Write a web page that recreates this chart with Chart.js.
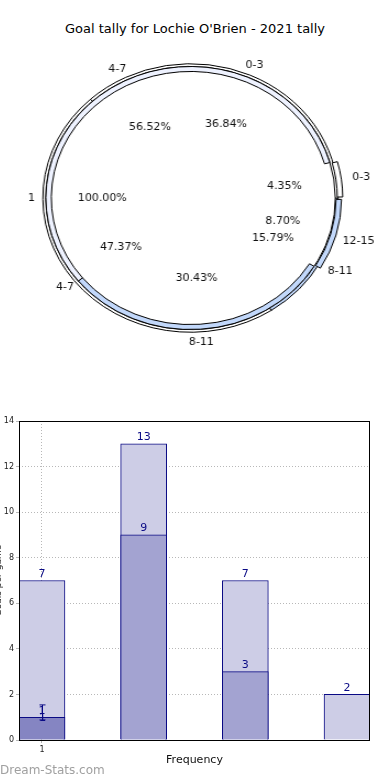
<!DOCTYPE html>
<html>
<head>
<meta charset="utf-8">
<script src="https://cdn.jsdelivr.net/npm/chart.js@4.4.1/dist/chart.umd.min.js"></script>
<style>
  html, body { margin: 0; padding: 0; background: #fff; }
  body { width: 390px; height: 780px; position: relative; overflow: hidden; font-family: "DejaVu Sans", sans-serif; }
  #title { position: absolute; top: 21px; left: 0; width: 390px; text-align: center; font-size: 13px; color: #000; }
  #pieBox { position: absolute; left: 13px; top: 33px; width: 355px; height: 330px; transform: scaleX(1.1); transform-origin: 50% 50%; }
  #barBox { position: absolute; left: 0; top: 410px; width: 390px; height: 370px; }
  #mark { position: absolute; left: 0; top: 763px; font-size: 12px; color: #a0a0a0; }
</style>
</head>
<body>
<div id="title"></div>
<div id="pieBox"><canvas id="pie"></canvas></div>
<div id="barBox"><canvas id="bars"></canvas></div>
<div id="mark">Dream-Stats.com</div>
<script>
// pie data (matplotlib order: counter-clockwise from 3 o'clock)
const pieTitle = "Goal tally for Lochie O'Brien - 2021 tally";
const innerLabels = ["1"];
const innerValues = [1];
const ringBLabels = ["0-3", "4-7", "8-11"];
const ringBValues = [7, 9, 3];
const ringALabels = ["0-3", "4-7", "8-11", "12-15"];
const ringAValues = [1, 13, 7, 2];

// bar data
const barX = [1, 2, 3, 4];
const totalCounts = [7, 13, 7, 2];
const subsetCounts = [1, 9, 3];
const errLow = [0.88];
const errHigh = [1.54];
const errText = ["1"];
const xTicks = [1];
const yTicks = [0, 2, 4, 6, 8, 10, 12, 14];

// styles
const ringAColors = ["#ffffff", "#eef2ff", "#c2d8fb", "#c2d8fb"];
const ringAOffset = [16, 0, 0, 16];
const ringAPush = [12, 0, 0, 14];
const ringBColors = ["#ffffff", "#ffffff", "#c2d8fb"];
const ringBPush = [0, 0, 10];
const subsetColors = ["#8585c2", "#a3a3d1", "#a3a3d1"];
const navy = "#0a0a85";
const stretch = 1.1;

document.getElementById("title").textContent = pieTitle;

function ccw(arr) { return arr.slice().reverse(); }

const pieLabels = {
  id: "pieLabels",
  afterDatasetsDraw(chart) {
    const ctx = chart.ctx;
    const R = chart.getDatasetMeta(0).data[0].outerRadius;
    ctx.save();
    ctx.font = '11px "DejaVu Sans"';
    ctx.fillStyle = "#111";
    ctx.textAlign = "center";
    ctx.textBaseline = "middle";
    function put(text, x, y) {
      ctx.save();
      ctx.translate(x, y);
      ctx.scale(1 / stretch, 1);
      ctx.fillText(text, 0, 0);
      ctx.restore();
    }
    chart.data.datasets.forEach(function (ds, di) {
      const meta = chart.getDatasetMeta(di);
      const total = ds.data.reduce(function (a, b) { return a + b; }, 0);
      meta.data.forEach(function (arc, i) {
        const mid = (arc.startAngle + arc.endAngle) / 2;
        const push = ds.push ? ds.push[i] : 0;
        const cos = Math.cos(mid), sin = Math.sin(mid);
        put(ds.names[i], arc.x + cos * (R * 1.1 + push), arc.y + sin * (R * 1.1 + push));
        const pct = (ds.data[i] / total * 100).toFixed(2) + "%";
        put(pct, arc.x + cos * (R * 0.61 + push / 2), arc.y + sin * (R * 0.61 + push / 2));
      });
    });
    ctx.restore();
  }
};

new Chart(document.getElementById("pie"), {
  type: "pie",
  data: {
    datasets: [
      { data: ccw(ringAValues), names: ccw(ringALabels), backgroundColor: ccw(ringAColors),
        offset: ccw(ringAOffset), push: ccw(ringAPush), weight: 5, borderColor: "#000", borderWidth: 1 },
      { data: ccw(ringBValues), names: ccw(ringBLabels), backgroundColor: ccw(ringBColors),
        push: ccw(ringBPush), weight: 2.5, borderColor: "#000", borderWidth: 1 },
      { data: innerValues, names: innerLabels, backgroundColor: ["#ffffff"],
        weight: 125.5, borderWidth: 0 }
    ]
  },
  options: {
    responsive: true,
    maintainAspectRatio: false,
    animation: false,
    rotation: 90,
    layout: { padding: { top: 25, bottom: 25, left: 0, right: 0 } },
    plugins: { legend: { display: false }, tooltip: { enabled: false } }
  },
  plugins: [pieLabels]
});

const barExtras = {
  id: "barExtras",
  afterDatasetsDraw(chart) {
    const ctx = chart.ctx;
    const a = chart.chartArea;
    const xs = chart.scales.x, ys = chart.scales.y;
    ctx.save();
    // frame
    ctx.strokeStyle = "#000";
    ctx.lineWidth = 1;
    ctx.strokeRect(a.left + 0.5, a.top + 0.5, a.right - a.left - 1, a.bottom - a.top);
    // value labels
    ctx.font = '11px "DejaVu Sans"';
    ctx.fillStyle = navy;
    ctx.textAlign = "center";
    ctx.textBaseline = "bottom";
    chart.data.datasets.forEach(function (ds, di) {
      chart.getDatasetMeta(di).data.forEach(function (bar, i) {
        ctx.fillText(String(ds.data[i].y), bar.x, bar.y - 1);
      });
    });
    // error bar
    ctx.strokeStyle = navy;
    errLow.forEach(function (lo, i) {
      const x = Math.round(xs.getPixelForValue(barX[i])) + 0.5;
      const y1 = ys.getPixelForValue(lo), y2 = ys.getPixelForValue(errHigh[i]);
      ctx.beginPath();
      ctx.moveTo(x, y1); ctx.lineTo(x, y2);
      ctx.moveTo(x - 3, y1); ctx.lineTo(x + 3, y1);
      ctx.moveTo(x - 3, y2); ctx.lineTo(x + 3, y2);
      ctx.stroke();
      ctx.textBaseline = "middle";
      ctx.fillText(errText[i], x, y1 - 2);
    });
    ctx.restore();
  }
};

new Chart(document.getElementById("bars"), {
  type: "bar",
  data: {
    datasets: [
      { label: "Subset", data: subsetCounts.map(function (v, i) { return { x: barX[i], y: v }; }),
        backgroundColor: subsetColors, borderColor: navy, borderWidth: 1, borderSkipped: "bottom",
        barThickness: 46, grouped: false, order: 0 },
      { label: "All", data: totalCounts.map(function (v, i) { return { x: barX[i], y: v }; }),
        backgroundColor: "#cdcde6", borderColor: navy, borderWidth: 1, borderSkipped: "bottom",
        barThickness: 46, grouped: false, order: 1 }
    ]
  },
  options: {
    responsive: true,
    maintainAspectRatio: false,
    animation: false,
    layout: { padding: { top: 11, right: 20, left: 0, bottom: 0 } },
    plugins: { legend: { display: false }, tooltip: { enabled: false } },
    scales: {
      x: {
        type: "linear", min: 0.774, max: 4.226, offset: false,
        afterBuildTicks: function (s) { s.ticks = xTicks.map(function (v) { return { value: v }; }); },
        afterFit: function (s) { s.height = 40; },
        ticks: { color: "#222", font: { family: "DejaVu Sans", size: 8 }, padding: 2 },
        grid: { color: "#b8b8b8", lineWidth: 1, offset: false, tickLength: 3 },
        border: { display: false, dash: [1, 2] },
        title: { display: true, text: "Frequency", color: "#111", font: { family: "DejaVu Sans", size: 11 }, padding: { top: 0, bottom: 13 } }
      },
      y: {
        min: 0, max: 14,
        afterBuildTicks: function (s) { s.ticks = yTicks.map(function (v) { return { value: v }; }); },
        afterFit: function (s) { s.width = 19; },
        ticks: { color: "#222", font: { family: "DejaVu Sans", size: 8 }, padding: 2 },
        grid: { color: "#b8b8b8", lineWidth: 1, tickLength: 3 },
        border: { display: false, dash: [1, 2] },
        title: { display: true, text: "Goals per game", color: "#222", font: { family: "DejaVu Sans", size: 9 }, padding: { top: -7, bottom: 0 } }
      }
    }
  },
  plugins: [barExtras]
});
</script>
</body>
</html>
